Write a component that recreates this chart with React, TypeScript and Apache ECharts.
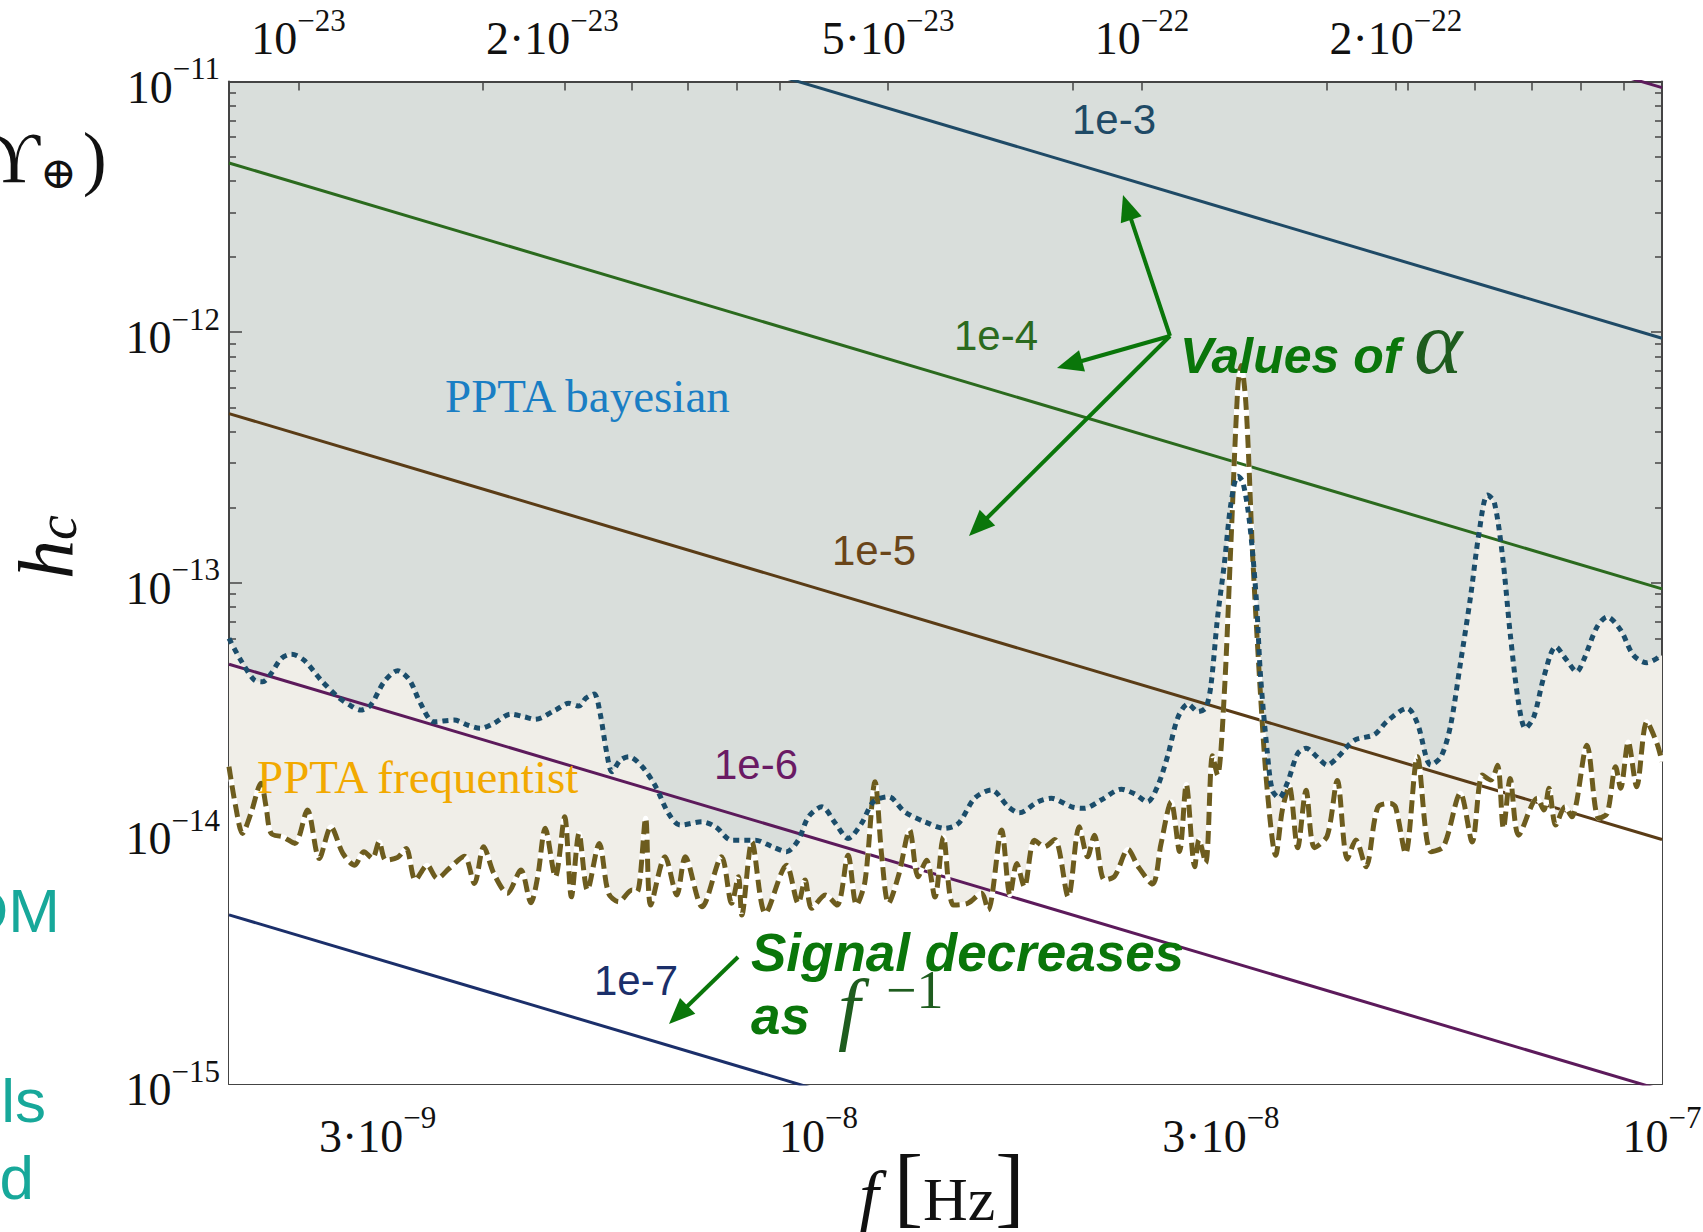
import React, { useEffect, useRef } from 'react';
import * as echarts from 'echarts';

// ---- data (log10 of f in Hz, log10 of h_c) ----
const bayesLogF = [
  -8.699, -8.685, -8.669, -8.659, -8.649, -8.637, -8.625, -8.610, -8.590, -8.570,
  -8.554, -8.543, -8.531, -8.515, -8.499, -8.485, -8.472, -8.456, -8.432, -8.416,
  -8.401, -8.385, -8.365, -8.349, -8.336, -8.312, -8.296, -8.284, -8.276, -8.266,
  -8.259, -8.251, -8.245, -8.235, -8.225, -8.209, -8.193, -8.178, -8.164, -8.138,
  -8.122, -8.103, -8.075, -8.055, -8.038, -8.024, -8.012, -7.996, -7.980, -7.965,
  -7.949, -7.935, -7.917, -7.898, -7.874, -7.850, -7.834, -7.815, -7.795, -7.775,
  -7.762, -7.740, -7.724, -7.700, -7.685, -7.665, -7.641, -7.625, -7.610, -7.598,
  -7.586, -7.574, -7.562, -7.550, -7.541, -7.535, -7.527, -7.519, -7.511, -7.503,
  -7.497, -7.489, -7.481, -7.476, -7.468, -7.462, -7.454, -7.444, -7.432, -7.422,
  -7.408, -7.397, -7.385, -7.365, -7.341, -7.326, -7.302, -7.290, -7.274, -7.262,
  -7.251, -7.239, -7.227, -7.217, -7.207, -7.199, -7.189, -7.180, -7.170, -7.162,
  -7.152, -7.140, -7.126, -7.113, -7.101, -7.093, -7.077, -7.065, -7.049, -7.034,
  -7.018, -7.000,
];
const bayesLogH = [
  -13.222, -13.309, -13.388, -13.395, -13.362, -13.302, -13.285, -13.309, -13.388, -13.455,
  -13.492, -13.508, -13.488, -13.395, -13.351, -13.388, -13.481, -13.555, -13.548, -13.568,
  -13.581, -13.561, -13.524, -13.535, -13.545, -13.508, -13.481, -13.492, -13.461, -13.444,
  -13.521, -13.681, -13.754, -13.708, -13.694, -13.734, -13.814, -13.920, -13.967, -13.954,
  -13.974, -14.027, -14.027, -14.053, -14.073, -14.027, -13.934, -13.894, -13.960, -14.020,
  -13.960, -13.874, -13.854, -13.914, -13.954, -13.980, -13.960, -13.860, -13.827, -13.894,
  -13.918, -13.874, -13.860, -13.894, -13.900, -13.867, -13.824, -13.843, -13.874, -13.812,
  -13.690, -13.538, -13.484, -13.514, -13.499, -13.415, -13.141, -12.927, -12.682, -12.575,
  -12.598, -12.759, -13.064, -13.370, -13.675, -13.828, -13.858, -13.797, -13.682, -13.660,
  -13.698, -13.728, -13.698, -13.629, -13.606, -13.553, -13.501, -13.561, -13.727, -13.694,
  -13.575, -13.322, -13.056, -12.803, -12.650, -12.677, -12.896, -13.202, -13.481, -13.581,
  -13.535, -13.375, -13.255, -13.309, -13.355, -13.309, -13.176, -13.136, -13.189, -13.289,
  -13.319, -13.289,
];
const freqLogF = [
  -8.699, -8.691, -8.683, -8.673, -8.661, -8.655, -8.649, -8.635, -8.621, -8.606,
  -8.592, -8.578, -8.564, -8.550, -8.539, -8.529, -8.521, -8.513, -8.499, -8.489,
  -8.478, -8.464, -8.452, -8.438, -8.420, -8.408, -8.397, -8.385, -8.369, -8.353,
  -8.341, -8.333, -8.324, -8.312, -8.301, -8.293, -8.284, -8.274, -8.260, -8.249,
  -8.237, -8.221, -8.215, -8.205, -8.199, -8.182, -8.168, -8.158, -8.138, -8.115,
  -8.103, -8.095, -8.091, -8.079, -8.063, -8.038, -8.024, -8.016, -8.008, -7.992,
  -7.978, -7.965, -7.955, -7.945, -7.933, -7.925, -7.917, -7.905, -7.892, -7.882,
  -7.872, -7.862, -7.852, -7.840, -7.823, -7.807, -7.799, -7.783, -7.773, -7.765,
  -7.756, -7.744, -7.732, -7.720, -7.704, -7.691, -7.681, -7.673, -7.661, -7.649,
  -7.633, -7.621, -7.604, -7.594, -7.582, -7.572, -7.564, -7.554, -7.549, -7.541,
  -7.533, -7.527, -7.519, -7.511, -7.503, -7.499, -7.493, -7.485, -7.476, -7.468,
  -7.458, -7.450, -7.442, -7.432, -7.422, -7.412, -7.397, -7.385, -7.373, -7.363,
  -7.351, -7.337, -7.322, -7.316, -7.304, -7.290, -7.274, -7.259, -7.239, -7.225,
  -7.213, -7.203, -7.195, -7.188, -7.180, -7.170, -7.148, -7.140, -7.134, -7.126,
  -7.115, -7.107, -7.089, -7.075, -7.065, -7.055, -7.049, -7.040, -7.030, -7.018,
  -7.006, -7.000,
];
const freqLogH = [
  -13.734, -13.894, -14.000, -13.920, -13.800, -13.894, -14.000, -14.014, -14.040, -13.907,
  -14.100, -13.974, -14.080, -14.127, -14.073, -14.100, -14.034, -14.107, -14.096, -14.060,
  -14.186, -14.127, -14.180, -14.140, -14.091, -14.200, -14.053, -14.160, -14.239, -14.146,
  -14.277, -14.173, -13.980, -14.173, -13.934, -14.253, -14.000, -14.226, -14.040, -14.239,
  -14.273, -14.226, -14.233, -13.940, -14.286, -14.093, -14.246, -14.093, -14.293, -14.093,
  -14.279, -14.173, -14.326, -14.034, -14.319, -14.127, -14.279, -14.186, -14.299, -14.246,
  -14.286, -14.087, -14.286, -14.193, -13.794, -14.093, -14.279, -14.166, -13.987, -14.173,
  -14.107, -14.254, -14.014, -14.286, -14.279, -14.239, -14.306, -13.987, -14.246, -14.120,
  -14.213, -14.027, -14.053, -14.024, -14.253, -13.974, -14.093, -14.007, -14.186, -14.171,
  -14.064, -14.133, -14.202, -14.042, -13.874, -14.072, -13.805, -14.133, -14.026, -14.118,
  -13.690, -13.767, -13.446, -12.835, -12.224, -12.133, -12.301, -12.911, -13.446, -13.828,
  -14.087, -13.904, -13.812, -14.057, -13.828, -14.057, -14.011, -13.789, -14.103, -14.026,
  -14.133, -13.896, -13.881, -13.894, -14.080, -13.694, -14.073, -14.053, -13.840, -14.034,
  -13.767, -13.787, -13.728, -13.980, -13.781, -14.007, -13.860, -13.907, -13.820, -13.967,
  -13.894, -13.934, -13.648, -13.940, -13.920, -13.734, -13.820, -13.635, -13.814, -13.555,
  -13.641, -13.714,
];

// power-law lines h_c ∝ 1/f for several alpha values: h_c at f = 2e-9 Hz and at f = 1e-7 Hz
const alphaNames = ['1e-2', '1e-3', '1e-4', '1e-5', '1e-6', '1e-7'];
const alphaHcAtFmin = [4.73e-10, 4.73e-11, 4.73e-12, 4.73e-13, 4.73e-14, 4.73e-15];
const alphaHcAtFmax = [9.45e-12, 9.45e-13, 9.45e-14, 9.45e-15, 9.45e-16, 9.45e-17];
const alphaColors = ['#5c1a5b', '#1f4a66', '#2b6a1e', '#5a3c16', '#5c1a5b', '#1b2f6a'];

const F_MIN = 2e-9;
const F_MAX = 1e-7;
const H_MIN = 1e-15;
const H_MAX = 1e-11;
const PLANCK_EV_S = 4.1357e-15;

const xTickValues = [3e-9, 4e-9, 5e-9, 6e-9, 7e-9, 8e-9, 9e-9, 1e-8, 2e-8, 3e-8, 4e-8, 5e-8, 6e-8, 7e-8, 8e-8, 9e-8, 1e-7];
const xLabelValues = [3e-9, 1e-8, 3e-8, 1e-7];
const xLabelTexts = ['{b|3·10}{s|−9}', '{b|10}{s|−8}', '{b|3·10}{s|−8}', '{b|10}{s|−7}'];
const topMirrorTicks = [4e-9, 5e-9, 6e-9, 7e-9, 8e-9, 9e-9, 2e-8, 4e-8, 5e-8, 6e-8, 7e-8, 8e-8, 9e-8];
const topTickValues = [1e-23, 5e-23, 1e-22, 2e-22];
const topLabelValues = [1e-23, 2e-23, 5e-23, 1e-22, 2e-22];
const topLabelTexts = ['{b|10}{s|−23}', '{b|2·10}{s|−23}', '{b|5·10}{s|−23}', '{b|10}{s|−22}', '{b|2·10}{s|−22}'];
const yMajorValues = [1e-15, 1e-14, 1e-13, 1e-12, 1e-11];
const yLabelTexts = ['{b|10}{s|−15}', '{b|10}{s|−14}', '{b|10}{s|−13}', '{b|10}{s|−12}', '{b|10}{s|−11}'];
const yMinorValues = [
  2e-15, 3e-15, 4e-15, 5e-15, 6e-15, 7e-15, 8e-15, 9e-15,
  2e-14, 3e-14, 4e-14, 5e-14, 6e-14, 7e-14, 8e-14, 9e-14,
  2e-13, 3e-13, 4e-13, 5e-13, 6e-13, 7e-13, 8e-13, 9e-13,
  2e-12, 3e-12, 4e-12, 5e-12, 6e-12, 7e-12, 8e-12, 9e-12,
];

const lg = (v: number) => Math.log10(v);
const SERIF = '"Liberation Serif", "DejaVu Serif", serif';
const SANS = '"Liberation Sans", Arial, sans-serif';

function pick(v: number, vals: number[], texts: string[]) {
  let best = 0;
  for (let i = 1; i < vals.length; i++) {
    if (Math.abs(lg(vals[i]) - v) < Math.abs(lg(vals[best]) - v)) best = i;
  }
  return texts[best];
}

const richLabel = {
  b: { fontSize: 46, fontFamily: SERIF, color: '#111', verticalAlign: 'bottom' },
  s: { fontSize: 31, fontFamily: SERIF, color: '#111', lineHeight: 57, verticalAlign: 'top' },
};

function arrow(t: number[], p: number[], color: string) {
  const len = 26, half = 11;
  const dx = p[0] - t[0], dy = p[1] - t[1];
  const L = Math.hypot(dx, dy);
  const ux = dx / L, uy = dy / L;
  const bx = p[0] - ux * len, by = p[1] - uy * len;
  return [
    { type: 'polyline', shape: { points: [t, [bx + ux * 3, by + uy * 3]] }, style: { stroke: color, lineWidth: 4, fill: null }, z: 100 },
    { type: 'polygon', shape: { points: [p, [bx - uy * half, by + ux * half], [bx + uy * half, by - ux * half]] }, style: { fill: color }, z: 100 },
  ];
}

const GREEN = '#0a760a';
const DARKGREEN = '#1e5c1e';

function buildOption() {
  const bayesData = bayesLogF.map((x, i) => [x, bayesLogH[i]]);
  const freqData = freqLogF.map((x, i) => [x, freqLogH[i]]);
  const xmin = lg(F_MIN), xmax = lg(F_MAX), ymin = lg(H_MIN), ymax = lg(H_MAX);
  const tickStyle = { color: '#444', width: 1.5 };
  const lineStyleAxis = { color: '#444', width: 2 };

  const alphaSeries = alphaNames.map((n, i) => ({
    type: 'line',
    name: 'alpha ' + n,
    data: [[xmin, lg(alphaHcAtFmin[i])], [xmax, lg(alphaHcAtFmax[i])]],
    showSymbol: false,
    symbol: 'none',
    clip: true,
    silent: true,
    lineStyle: { color: alphaColors[i], width: 3 },
    z: 3,
  }));

  const smooth = 0.3;

  const graphic: any[] = [
    // line labels
    { type: 'text', x: 1114, y: 119, style: { text: '1e-3', font: `42px ${SANS}`, fill: '#1f4a66', align: 'center', verticalAlign: 'middle' }, z: 100 },
    { type: 'text', x: 996, y: 335, style: { text: '1e-4', font: `42px ${SANS}`, fill: '#2b6a1e', align: 'center', verticalAlign: 'middle' }, z: 100 },
    { type: 'text', x: 874, y: 550, style: { text: '1e-5', font: `42px ${SANS}`, fill: '#6a4519', align: 'center', verticalAlign: 'middle' }, z: 100 },
    { type: 'text', x: 756, y: 764, style: { text: '1e-6', font: `42px ${SANS}`, fill: '#6a1a64', align: 'center', verticalAlign: 'middle' }, z: 100 },
    { type: 'text', x: 636, y: 980, style: { text: '1e-7', font: `42px ${SANS}`, fill: '#1b2f6a', align: 'center', verticalAlign: 'middle' }, z: 100 },
    // data set labels
    { type: 'text', x: 445, y: 396, style: { text: 'PPTA bayesian', font: `47px ${SERIF}`, fill: '#1a7ec4', align: 'left', verticalAlign: 'middle' }, z: 100 },
    { type: 'text', x: 257, y: 777, style: { text: 'PPTA frequentist', font: `47px ${SERIF}`, fill: '#f2a900', align: 'left', verticalAlign: 'middle' }, z: 100 },
    // annotations
    { type: 'text', x: 1180, y: 356, style: { text: 'Values of', font: `italic bold 50px ${SANS}`, fill: GREEN, align: 'left', verticalAlign: 'middle' }, z: 100 },
    { type: 'text', x: 1414, y: 342, style: { text: 'α', font: `italic 92px ${SERIF}`, fill: DARKGREEN, align: 'left', verticalAlign: 'middle' }, z: 100 },
    { type: 'text', x: 751, y: 952, style: { text: 'Signal decreases', font: `italic bold 53px ${SANS}`, fill: GREEN, align: 'left', verticalAlign: 'middle' }, z: 100 },
    { type: 'text', x: 751, y: 1015, style: { text: 'as', font: `italic bold 53px ${SANS}`, fill: GREEN, align: 'left', verticalAlign: 'middle' }, z: 100 },
    { type: 'text', x: 838, y: 1008, style: { text: 'f', font: `italic 80px ${SERIF}`, fill: DARKGREEN, align: 'left', verticalAlign: 'middle' }, z: 100 },
    { type: 'text', x: 886, y: 990, style: { text: '−1', font: `54px ${SERIF}`, fill: DARKGREEN, align: 'left', verticalAlign: 'middle' }, z: 100 },
    ...arrow([1170, 336], [1123, 195], GREEN),
    ...arrow([1170, 336], [1057, 368], GREEN),
    ...arrow([1170, 336], [969, 536], GREEN),
    ...arrow([738, 957], [669, 1024], GREEN),
    // axis titles
    {
      type: 'text', x: 46, y: 547, rotation: Math.PI / 2,
      style: {
        text: '{h|h}{c|c}', align: 'center', verticalAlign: 'middle',
        rich: {
          h: { font: `italic 78px ${SERIF}`, fill: '#111', verticalAlign: 'bottom' },
          c: { font: `italic 56px ${SERIF}`, fill: '#111', verticalAlign: 'bottom' },
        },
      },
      z: 100,
    },
    {
      type: 'text', x: 942, y: 1230,
      style: {
        text: '{f|f} {b|[}{h|Hz}{b|]}', align: 'center', verticalAlign: 'bottom',
        font: `60px ${SERIF}`, fill: '#111',
        rich: {
          f: { font: `italic 70px ${SERIF}`, fill: '#111', verticalAlign: 'bottom' },
          b: { font: `88px ${SERIF}`, fill: '#111', verticalAlign: 'bottom' },
          h: { font: `62px ${SERIF}`, fill: '#111', verticalAlign: 'bottom' },
        },
      },
      z: 100,
    },
    // fragments of neighbouring slide content cut by the frame
    {
      type: 'text', x: -12, y: 194,
      style: {
        text: '{u|ϒ}{o|⊕}{p|)}', align: 'left', verticalAlign: 'bottom',
        rich: {
          u: { font: `72px ${SERIF}`, fill: '#111', verticalAlign: 'bottom' },
          o: { font: `44px "DejaVu Serif", serif`, fill: '#111', verticalAlign: 'bottom' },
          p: { font: `72px ${SERIF}`, fill: '#111', verticalAlign: 'bottom', padding: [0, 0, 0, 6] },
        },
      },
      z: 100,
    },
    { type: 'text', x: 60, y: 910, style: { text: 'DM', font: `62px ${SANS}`, fill: '#17a89a', align: 'right', verticalAlign: 'middle' }, z: 100 },
    { type: 'text', x: 46, y: 1100, style: { text: 'ls', font: `62px ${SANS}`, fill: '#17a89a', align: 'right', verticalAlign: 'middle' }, z: 100 },
    { type: 'text', x: 34, y: 1177, style: { text: 'd', font: `62px ${SANS}`, fill: '#17a89a', align: 'right', verticalAlign: 'middle' }, z: 100 },
  ];

  return {
    animation: false,
    backgroundColor: '#ffffff',
    textStyle: { fontFamily: SERIF },
    grid: {
      left: 229, right: 41, top: 81.5, bottom: 148,
      show: true, backgroundColor: '#d9dedb', borderWidth: 0,
      containLabel: false, outerBoundsMode: 'none',
    },
    xAxis: [
      {
        type: 'value', position: 'bottom', min: xmin, max: xmax,
        axisLine: { show: true, onZero: false, lineStyle: lineStyleAxis },
        axisTick: { show: true, inside: true, length: 9, customValues: xTickValues.map(lg), lineStyle: tickStyle },
        axisLabel: { show: true, customValues: xLabelValues.map(lg), formatter: (v: number) => pick(v, xLabelValues, xLabelTexts), margin: 18, rich: richLabel },
        splitLine: { show: false },
      },
      {
        type: 'value', position: 'top', min: lg(F_MIN * PLANCK_EV_S), max: lg(F_MAX * PLANCK_EV_S),
        axisLine: { show: false, onZero: false },
        axisTick: { show: true, inside: true, length: 9, customValues: topTickValues.map(lg), lineStyle: tickStyle },
        axisLabel: { show: true, customValues: topLabelValues.map(lg), formatter: (v: number) => pick(v, topLabelValues, topLabelTexts), margin: 20, rich: richLabel },
        splitLine: { show: false },
      },
      {
        type: 'value', position: 'top', min: xmin, max: xmax,
        axisLine: { show: true, onZero: false, lineStyle: lineStyleAxis },
        axisTick: { show: true, inside: true, length: 9, customValues: topMirrorTicks.map(lg), lineStyle: tickStyle },
        axisLabel: { show: false },
        splitLine: { show: false },
      },
    ],
    yAxis: [
      {
        type: 'value', position: 'left', min: ymin, max: ymax,
        axisLine: { show: true, onZero: false, lineStyle: lineStyleAxis },
        axisTick: { show: true, inside: true, length: 13, customValues: yMajorValues.map(lg), lineStyle: tickStyle },
        axisLabel: { show: true, customValues: yMajorValues.map(lg), formatter: (v: number) => pick(v, yMajorValues, yLabelTexts), margin: 9, rich: richLabel },
        splitLine: { show: false },
      },
      {
        type: 'value', position: 'left', min: ymin, max: ymax,
        axisLine: { show: false, onZero: false },
        axisTick: { show: true, inside: true, length: 7, customValues: yMinorValues.map(lg), lineStyle: tickStyle },
        axisLabel: { show: false },
        splitLine: { show: false },
      },
      {
        type: 'value', position: 'right', min: ymin, max: ymax,
        axisLine: { show: true, onZero: false, lineStyle: lineStyleAxis },
        axisTick: { show: true, inside: true, length: 11, customValues: yMajorValues.map(lg), lineStyle: tickStyle },
        axisLabel: { show: false },
        splitLine: { show: false },
      },
      {
        type: 'value', position: 'right', min: ymin, max: ymax,
        axisLine: { show: false, onZero: false },
        axisTick: { show: true, inside: true, length: 7, customValues: yMinorValues.map(lg), lineStyle: tickStyle },
        axisLabel: { show: false },
        splitLine: { show: false },
      },
    ],
    series: [
      {
        type: 'line', name: 'bayesFill', data: bayesData, smooth, showSymbol: false, symbol: 'none', silent: true,
        lineStyle: { width: 0, opacity: 0 }, areaStyle: { color: '#f0eee8', opacity: 1, origin: 'start' }, z: 1,
      },
      {
        type: 'line', name: 'freqFill', data: freqData, smooth, showSymbol: false, symbol: 'none', silent: true,
        lineStyle: { width: 0, opacity: 0 }, areaStyle: { color: '#ffffff', opacity: 1, origin: 'start' }, z: 2,
      },
      ...alphaSeries,
      {
        type: 'line', name: 'freqUnder', data: freqData, smooth, showSymbol: false, symbol: 'none', silent: true,
        lineStyle: { color: '#ffffff', width: 5 }, z: 4,
      },
      {
        type: 'line', name: 'PPTA frequentist', data: freqData, smooth, showSymbol: false, symbol: 'none', silent: true,
        lineStyle: { color: '#6d5c1e', width: 5, type: [13, 6] }, z: 5,
      },
      {
        type: 'line', name: 'PPTA bayesian', data: bayesData, smooth, showSymbol: false, symbol: 'none', silent: true,
        lineStyle: { color: '#1b4d6b', width: 5, type: [6, 5] }, z: 6,
      },
    ],
    graphic,
  };
}

export default function App() {
  const ref = useRef<HTMLDivElement>(null);
  useEffect(() => {
    if (!ref.current) return;
    const chart = echarts.init(ref.current, null, { renderer: 'svg' });
    chart.setOption(buildOption() as any);
    return () => chart.dispose();
  }, []);
  return (
    <div
      ref={ref}
      style={{ position: 'fixed', left: 0, top: 0, width: 1703, height: 1232, background: '#ffffff' }}
    />
  );
}
